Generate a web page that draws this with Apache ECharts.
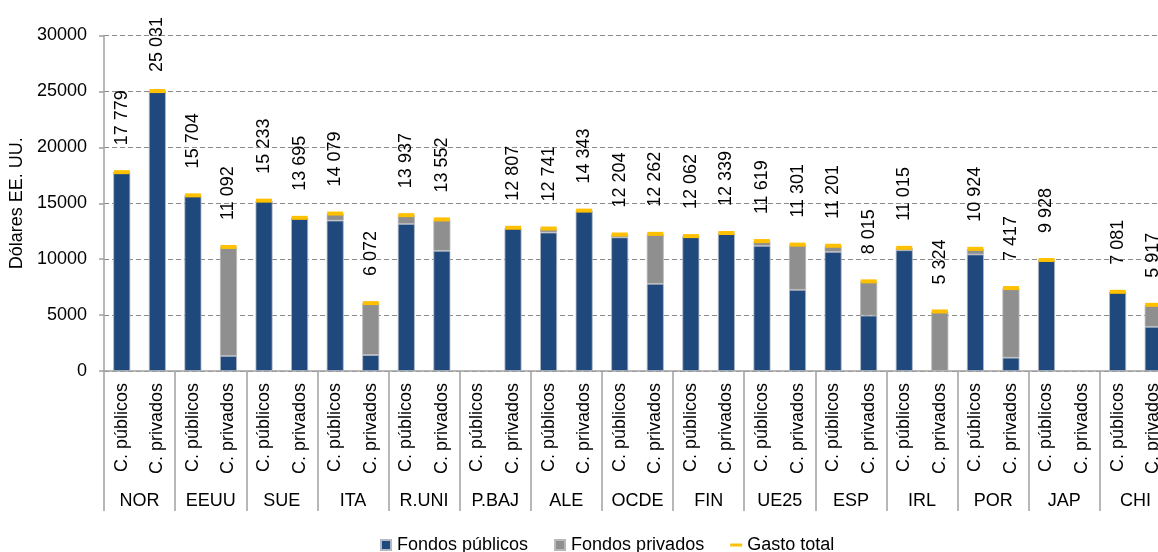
<!DOCTYPE html>
<html>
<head>
<meta charset="utf-8">
<script src="https://cdn.jsdelivr.net/npm/echarts@6/dist/echarts.min.js"></script>
<style>
  html, body { margin: 0; padding: 0; background: #fff; }
  #chart { width: 1158px; height: 552px; }
</style>
</head>
<body>
<div id="chart"></div>
<script>
// Country groups and the two kinds of centres inside each group
const countries = ['NOR', 'EEUU', 'SUE', 'ITA', 'R.UNI', 'P.BAJ', 'ALE', 'OCDE', 'FIN', 'UE25', 'ESP', 'IRL', 'POR', 'JAP', 'CHI'];
const centreTypes = ['C. públicos', 'C. privados'];

// Spending per student (US dollars), one value per bar, group by group
const publicFunds = [
  17779, 25031,   // NOR
  15704, 1350,    // EEUU
  15233, 13695,   // SUE
  13450, 1430,    // ITA
  13150, 10750,   // R.UNI
  null, 12807,    // P.BAJ
  12380, 14343,   // ALE
  11950, 7800,    // OCDE
  12062, 12339,   // FIN
  11190, 7260,    // UE25
  10650, 4950,    // ESP
  10800, null,    // IRL
  10420, 1190,    // POR
  9928, null,     // JAP
  7081, 3950      // CHI
];
const privateFunds = [
  null, null,
  null, 9742,
  null, null,
  629, 4642,
  787, 2802,
  null, null,
  361, null,
  254, 4462,
  null, null,
  429, 4041,
  551, 3065,
  215, 5324,
  504, 6227,
  null, null,
  null, 1967
];
const totalSpending = [
  17779, 25031,
  15704, 11092,
  15233, 13695,
  14079, 6072,
  13937, 13552,
  null, 12807,
  12741, 14343,
  12204, 12262,
  12062, 12339,
  11619, 11301,
  11201, 8015,
  11015, 5324,
  10924, 7417,
  9928, null,
  7081, 5917
];
const yTicks = { min: 0, max: 30000, step: 5000 };

const FONT = "'Liberation Sans', Arial, sans-serif";
const AXIS_GREY = '#a0a0a0';

const subCategories = countries.flatMap(() => centreTypes);
const withSpaces = v => String(v).replace(/\B(?=(\d{3})+(?!\d))/g, ' ');

// Labels near the top of the plot sit a little closer to their marker
const totalPoints = totalSpending.map(v =>
  v != null && v > 24000 ? { value: v, label: { distance: 17 } } : v
);

const chart = echarts.init(document.getElementById('chart'), null, { renderer: 'canvas' });

chart.setOption({
  animation: false,
  textStyle: { fontFamily: FONT },
  grid: {
    left: 104, right: -13, top: 35.5, bottom: 181,
    containLabel: false, outerBoundsMode: 'none'
  },
  legend: {
    top: 531,
    left: 375,
    itemGap: 26,
    itemWidth: 12,
    itemHeight: 10,
    textStyle: { fontSize: 18, color: '#000', fontFamily: FONT },
    data: [
      { name: 'Fondos públicos', icon: 'path://M0,0H10V10H0Z' },
      { name: 'Fondos privados', icon: 'path://M0,0H10V10H0Z' },
      { name: 'Gasto total', icon: 'path://M0,0H13V3.2H0Z' }
    ]
  },
  xAxis: [
    {
      type: 'category',
      data: subCategories,
      position: 'bottom',
      axisLine: { show: true, lineStyle: { color: AXIS_GREY, width: 1.5 } },
      axisTick: { show: false },
      axisLabel: {
        interval: 0, rotate: 90, margin: 12,
        fontSize: 18, color: '#000', fontFamily: FONT
      },
      splitLine: { show: false }
    },
    {
      type: 'category',
      data: countries,
      position: 'bottom',
      axisLine: { show: false },
      axisTick: {
        show: true, interval: 0, length: 140,
        lineStyle: { color: AXIS_GREY, width: 1.5 }
      },
      axisLabel: {
        interval: 0, margin: 121,
        fontSize: 18, color: '#000', fontFamily: FONT
      },
      splitLine: { show: false }
    }
  ],
  yAxis: {
    type: 'value',
    min: yTicks.min,
    max: yTicks.max,
    interval: yTicks.step,
    name: 'Dólares EE. UU.',
    nameLocation: 'middle',
    nameGap: 66,
    nameRotate: 90,
    nameTextStyle: { fontSize: 18, color: '#000', fontFamily: FONT },
    axisLine: { show: true, lineStyle: { color: AXIS_GREY, width: 1.5 } },
    axisTick: { show: true, length: 5, lineStyle: { color: AXIS_GREY, width: 1.5 } },
    axisLabel: {
      margin: 17, fontSize: 18, color: '#000', fontFamily: FONT,
      formatter: v => String(v)
    },
    splitLine: { show: true, lineStyle: { color: '#8c8c8c', width: 1.2, type: [5, 3] } }
  },
  series: [
    {
      name: 'Fondos públicos',
      type: 'bar',
      stack: 'gasto',
      xAxisIndex: 0,
      barWidth: 17,
      itemStyle: { color: '#1F497D', borderColor: '#b3b9c4', borderWidth: 0.8 },
      data: publicFunds
    },
    {
      name: 'Fondos privados',
      type: 'bar',
      stack: 'gasto',
      xAxisIndex: 0,
      barWidth: 17,
      itemStyle: { color: '#8F8F8F', borderColor: '#b8b8b8', borderWidth: 0.8 },
      data: privateFunds
    },
    {
      name: 'Gasto total',
      type: 'line',
      xAxisIndex: 0,
      color: '#FFC000',
      symbol: 'rect',
      symbolSize: [16, 4],
      showSymbol: true,
      z: 5,
      lineStyle: { opacity: 0, width: 0 },
      itemStyle: { color: '#FFC000' },
      label: {
        show: true,
        position: 'top',
        distance: 25,
        rotate: 90,
        align: 'left',
        verticalAlign: 'middle',
        fontSize: 18,
        color: '#000',
        fontFamily: FONT,
        formatter: p => withSpaces(p.value)
      },
      data: totalPoints
    }
  ]
});
</script>
</body>
</html>
